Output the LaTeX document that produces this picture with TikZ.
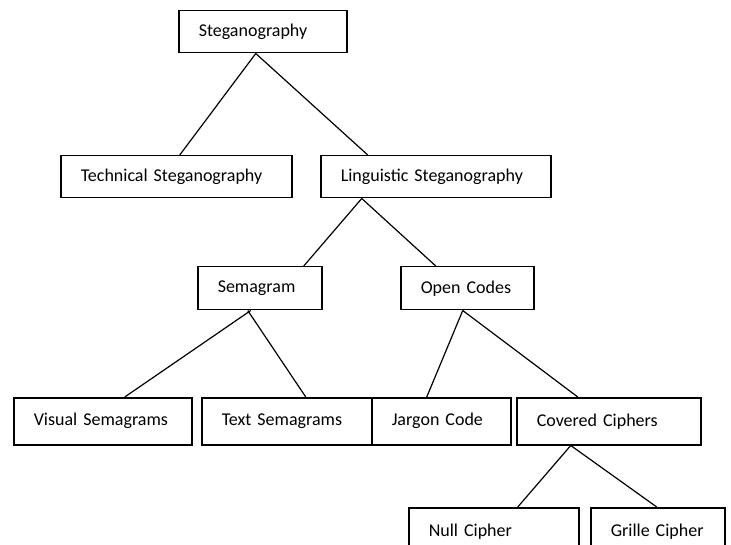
\documentclass[tikz,border=0pt]{standalone}
\usepackage{fontspec}
\setmainfont{Carlito}
\usetikzlibrary{positioning}
\begin{document}
\begin{tikzpicture}[x=1pt,y=1pt,
  box/.style={draw=black, line width=1.5pt, anchor=north west, inner xsep=20pt, inner ysep=0pt,
    align=left, font=\fontsize{18}{20}\selectfont},
  conn/.style={draw=black, line width=1.2pt}]
\useasboundingbox (0,0) rectangle (731,-545);
\node[box, text width=128pt, minimum height=42pt] (steg) at (178,-10) {Steganography};
\node[box, text width=191pt, minimum height=42pt] (tech) at (60,-155) {Technical Steganography};
\node[box, text width=190pt, minimum height=42pt] (ling) at (320,-155) {Linguistic Steganography};
\node[box, text width=84pt, minimum height=43pt] (sema) at (197,-266) {Semagram};
\node[box, text width=93pt, minimum height=43pt] (open) at (400,-266) {Open Codes};
\node[box, text width=138pt, minimum height=47pt] (vis) at (13,-397) {Visual Semagrams};
\node[box, text width=130pt, minimum height=47pt] (txt) at (201,-397) {Text Semagrams};
\node[box, text width=99pt, minimum height=47pt] (jar) at (371,-397) {Jargon Code};
\node[box, text width=144pt, minimum height=47pt] (cov) at (516,-397) {Covered Ciphers};
\node[box, text width=130pt, minimum height=47pt] (nul) at (408,-507) {Null Cipher};
\node[box, text width=94pt, minimum height=47pt] (gri) at (590,-507) {Grille Cipher};
\draw[conn] ([xshift=-7pt]steg.south) -- ([xshift=3.5pt]tech.north);
\draw[conn] ([xshift=-7pt]steg.south) -- ([xshift=-68pt]ling.north);
\draw[conn] ([xshift=-74pt]ling.south) -- ([xshift=44pt]sema.north);
\draw[conn] ([xshift=-74pt]ling.south) -- ([xshift=-31.5pt]open.north);
\draw[conn] ([xshift=-9pt]sema.south) -- ([xshift=22pt]vis.north);
\draw[conn] ([xshift=-12pt]sema.south) -- ([xshift=19pt]txt.north);
\draw[conn] ([xshift=-4.5pt]open.south) -- ([xshift=-14.5pt]jar.north);
\draw[conn] ([xshift=-4.5pt]open.south) -- ([xshift=-31pt]cov.north);
\draw[conn] ([xshift=-38pt]cov.south) -- ([xshift=24pt]nul.north);
\draw[conn] ([xshift=-38pt]cov.south) -- ([xshift=-1pt]gri.north);
\end{tikzpicture}
\end{document}
